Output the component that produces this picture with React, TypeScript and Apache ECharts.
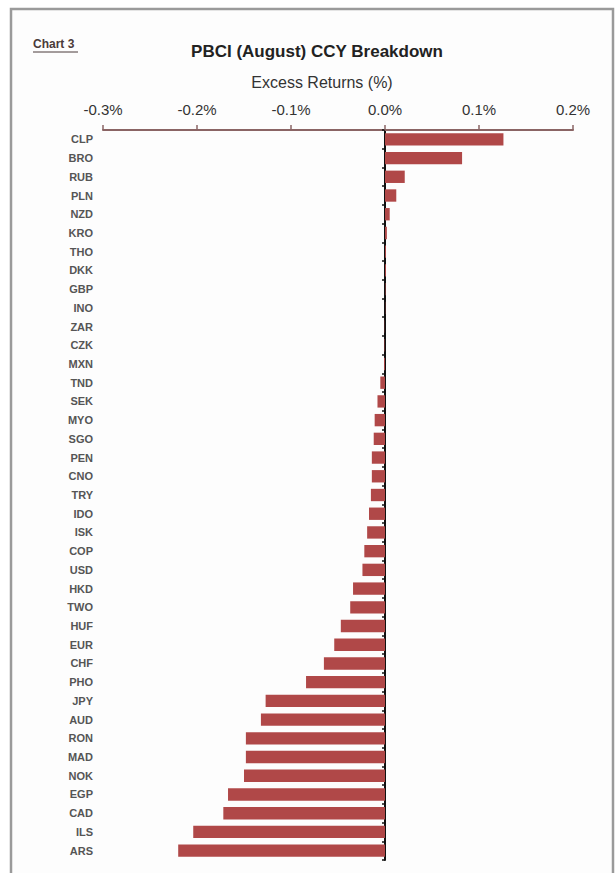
import React, { useEffect, useRef } from "react";
import * as echarts from "echarts";

const categories = [
  "CLP", "BRO", "RUB", "PLN", "NZD", "KRO", "THO", "DKK", "GBP", "INO",
  "ZAR", "CZK", "MXN", "TND", "SEK", "MYO", "SGO", "PEN", "CNO", "TRY",
  "IDO", "ISK", "COP", "USD", "HKD", "TWO", "HUF", "EUR", "CHF", "PHO",
  "JPY", "AUD", "RON", "MAD", "NOK", "EGP", "CAD", "ILS", "ARS",
];
// Excess returns in %
const excessReturns = [
  0.126, 0.082, 0.021, 0.012, 0.005, 0.002, 0.001, 0.001, 0.0005, 0.0003,
  -0.0003, -0.0005, -0.001, -0.005, -0.008, -0.011, -0.012, -0.014, -0.014, -0.015,
  -0.017, -0.019, -0.022, -0.024, -0.034, -0.037, -0.047, -0.054, -0.065, -0.084,
  -0.127, -0.132, -0.148, -0.148, -0.150, -0.167, -0.172, -0.204, -0.220,
];
const xMin = -0.3;
const xMax = 0.2;
const xInterval = 0.1;

export default function App() {
  const ref = useRef<HTMLDivElement>(null);
  useEffect(() => {
    if (!ref.current) return;
    const chart = echarts.init(ref.current, null, { renderer: "svg" });
    const font = "'Liberation Sans', Arial, sans-serif";
    chart.setOption({
      animation: false,
      backgroundColor: "#ffffff",
      textStyle: { fontFamily: font },
      graphic: [
        {
          type: "rect",
          shape: { x: 11, y: 9, width: 602, height: 900 },
          style: { fill: "#fdfdfd", stroke: "#9a9a9a", lineWidth: 2.5 },
          z: -10,
        },
        {
          type: "text",
          x: 33,
          y: 38,
          style: {
            text: "Chart 3",
            font: `bold 12px ${font}`,
            fill: "#4a3a3a",
          },
        },
        {
          type: "line",
          shape: { x1: 33, y1: 52, x2: 78, y2: 52 },
          style: { stroke: "#4a3a3a", lineWidth: 1 },
        },
      ],
      title: [
        {
          text: "PBCI (August) CCY Breakdown",
          left: 312,
          top: 38,
          textAlign: "center",
          textStyle: { fontFamily: font, fontSize: 17, fontWeight: "bold", color: "#222" },
        },
        {
          text: "Excess Returns (%)",
          left: 317,
          top: 69,
          textAlign: "center",
          textStyle: { fontFamily: font, fontSize: 16, fontWeight: "normal", color: "#333" },
        },
      ],
      grid: { left: 103, right: 43, top: 130, bottom: 13, containLabel: false },
      xAxis: {
        type: "value",
        position: "top",
        min: xMin,
        max: xMax,
        interval: xInterval,
        axisLine: { show: true, onZero: false, lineStyle: { color: "#8a6464", width: 2 } },
        axisTick: { show: true, inside: false, length: 5, lineStyle: { color: "#8a6464", width: 1.5 } },
        axisLabel: {
          margin: 13,
          fontSize: 15,
          color: "#333",
          fontFamily: font,
          formatter: (v: number) => `${(Math.abs(v) < 1e-9 ? 0 : v).toFixed(1)}%`,
        },
        splitLine: { show: false },
      },
      yAxis: [
        {
          type: "category",
          data: categories,
          inverse: true,
          position: "left",
          axisLine: { show: false, onZero: false },
          axisTick: { show: false },
          axisLabel: {
            margin: 10,
            fontSize: 11,
            fontWeight: "bold",
            color: "#555",
            fontFamily: font,
          },
          splitLine: { show: false },
        },
        {
          type: "category",
          data: categories,
          inverse: true,
          position: "left",
          axisLine: { show: true, onZero: true, lineStyle: { color: "#111", width: 2 } },
          axisTick: { show: true, length: 3, lineStyle: { color: "#111", width: 1.5 } },
          axisLabel: { show: false },
          splitLine: { show: false },
        },
      ],
      series: [
        {
          type: "bar",
          data: excessReturns,
          yAxisIndex: 0,
          barCategoryGap: "34%",
          itemStyle: { color: "#b04848" },
          z: 1,
        },
      ],
    });
    return () => chart.dispose();
  }, []);
  return (
    <div
      ref={ref}
      style={{ position: "fixed", left: 0, top: 0, width: 616, height: 873 }}
    />
  );
}
